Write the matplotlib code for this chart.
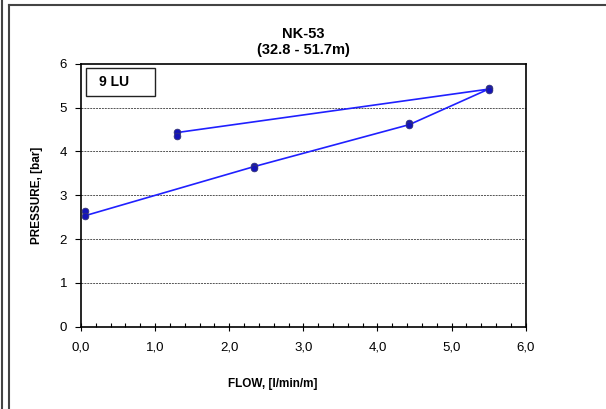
import matplotlib.pyplot as plt
from matplotlib.lines import Line2D
from matplotlib.patches import Rectangle
from matplotlib.ticker import MultipleLocator

plt.rcParams['font.family'] = ['Liberation Sans', 'DejaVu Sans']

# step means (line) in test order
step_flow = [0.05, 2.33, 4.43, 5.50, 1.30]
step_pressure = [2.53, 3.65, 4.61, 5.42, 4.43]

# individual readings (markers)
read_flow = [0.05, 0.05, 2.33, 2.33, 4.43, 4.43, 5.50, 5.50, 1.30, 1.30]
read_pressure = [2.63, 2.53, 3.67, 3.63, 4.64, 4.60, 5.45, 5.40, 4.44, 4.34]

x_ticks = [0, 1, 2, 3, 4, 5, 6]
y_ticks = [0, 1, 2, 3, 4, 5, 6]

fig = plt.figure(figsize=(6.06, 4.09), dpi=100)
ax = fig.add_axes([0.1337, 0.2012, 0.7338, 0.6431])

for y in y_ticks[1:-1]:
    ax.axhline(y, color='#555555', lw=0.7, ls=(0, (2, 1)), zorder=1)

ax.plot(step_flow, step_pressure, color='#2020ff', lw=1.2, zorder=2)
ax.plot(read_flow, read_pressure, ls='none', marker='o', ms=4.8,
        mfc='#1414b8', mec='#333377', mew=0.6, zorder=3)

ax.set_xlim(0, 6)
ax.set_ylim(0, 6)
ax.set_xticks(x_ticks)
ax.set_yticks(y_ticks)
ax.xaxis.set_minor_locator(MultipleLocator(0.2))
ax.set_xticklabels([f'{v:.1f}'.replace('.', ',') for v in x_ticks])
ax.tick_params(axis='x', which='major', direction='inout', length=6, width=0.8,
               labelsize=9.5, pad=8)
ax.tick_params(axis='x', which='minor', direction='in', length=3, width=0.8)
ax.tick_params(axis='y', direction='out', length=4, width=0.8, labelsize=9.5, pad=6)
for s in ax.spines.values():
    s.set_linewidth(1.2)

ax.set_title('NK-53\n(32.8 - 51.7m)', fontsize=10.5, fontweight='bold', pad=7,
             linespacing=1.15)
ax.set_xlabel('FLOW, [l/min/m]', fontsize=8.5, fontweight='bold')
ax.xaxis.set_label_coords(0.43, -0.195)
ax.set_ylabel('PRESSURE, [bar]', fontsize=8.5, fontweight='bold')
ax.yaxis.set_label_coords(-0.086, 0.5)

# label box
ax.add_patch(Rectangle((0.012, 0.876), 0.155, 0.107, transform=ax.transAxes,
                       fill=False, ec='#222222', lw=1.0, zorder=4))
ax.text(0.04, 0.93, '9 LU', transform=ax.transAxes, fontsize=10,
        fontweight='bold', va='center', ha='left', zorder=5)

# outer frame lines
fig.add_artist(Line2D([2.5 / 606, 2.5 / 606], [0, 1], color='#444444', lw=1.5))
fig.add_artist(Line2D([8.5 / 606, 8.5 / 606], [0, 1 - 5 / 409], color='#444444', lw=1.5))
fig.add_artist(Line2D([8.5 / 606, 1], [1 - 5 / 409, 1 - 5 / 409], color='#444444', lw=1.5))

fig.savefig('out.png', dpi=100)
